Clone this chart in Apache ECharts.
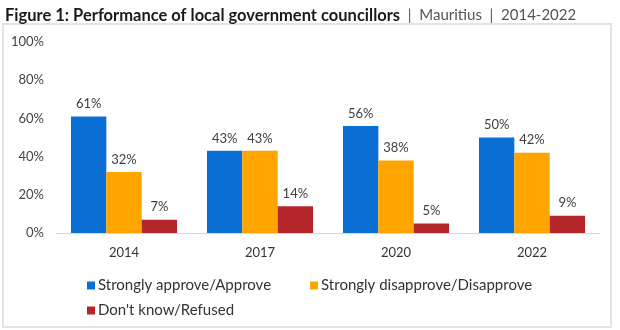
<!DOCTYPE html>
<html><head><meta charset="utf-8">
<script src="https://cdn.jsdelivr.net/npm/echarts@6/dist/echarts.min.js"></script>
<style>html,body{margin:0;padding:0;background:#fff}#c{width:620px;height:330px}</style>
</head><body><div id="c"></div>
<script>
const categories = ['2014', '2017', '2020', '2022'];
const approve = [61, 43, 56, 50];
const disapprove = [32, 43, 38, 42];
const dontKnow = [7, 14, 5, 9];
const seriesNames = ['Strongly approve/Approve', 'Strongly disapprove/Disapprove', "Don't know/Refused"];
const yTicks = [0, 20, 40, 60, 80, 100];

const FONT = 'Lato, "DejaVu Sans", sans-serif';
const chart = echarts.init(document.getElementById('c'), null, {renderer: 'canvas'});
const lbl = {show: true, position: 'top', formatter: '{c}%', color: '#404040', fontSize: 13, fontFamily: FONT, distance: 6};
const legendText = {fontFamily: FONT, fontSize: 15, color: '#333', padding: [0, 0, 0, -2]};
chart.setOption({
  animation: false,
  backgroundColor: '#fff',
  title: {
    left: 0, top: 2,
    text: '{b|Figure 1: Performance of local government councillors}{r|  |  Mauritius  |  2014-2022}',
    textStyle: {
      rich: {
        b: {fontFamily: FONT, fontWeight: 'bold', fontSize: 16.5, color: '#1a1a1a'},
        r: {fontFamily: FONT, fontWeight: 'normal', fontSize: 15, color: '#555'}
      }
    }
  },
  graphic: [{
    type: 'rect', z: -1,
    shape: {x: 3, y: 24, width: 608, height: 303},
    style: {fill: 'none', stroke: '#e3e3e3', lineWidth: 2}
  }],
  grid: {left: 56, right: 20, top: 42, bottom: 97},
  legend: [{
    left: 82, top: 273,
    icon: 'rect', itemWidth: 8, itemHeight: 8, itemGap: 39,
    data: seriesNames.slice(0, 2),
    textStyle: legendText
  }, {
    left: 82, top: 298,
    icon: 'rect', itemWidth: 8, itemHeight: 8,
    data: seriesNames.slice(2),
    textStyle: legendText
  }],
  xAxis: {
    type: 'category', data: categories,
    axisLine: {lineStyle: {color: '#d9d9d9'}},
    axisTick: {show: false},
    axisLabel: {fontFamily: FONT, fontSize: 13, color: '#333', margin: 13}
  },
  yAxis: {
    type: 'value', min: 0, max: 100, interval: 20,
    axisLine: {show: false}, axisTick: {show: false},
    splitLine: {show: false},
    axisLabel: {formatter: v => yTicks.includes(v) ? v + '%' : '', fontFamily: FONT, fontSize: 13, color: '#444', margin: 12}
  },
  series: [
    {name: seriesNames[0], type: 'bar', data: approve, barGap: '0%', barCategoryGap: '22%', itemStyle: {color: '#0b70d6'}, label: lbl},
    {name: seriesNames[1], type: 'bar', data: disapprove, itemStyle: {color: '#fea502'}, label: lbl},
    {name: seriesNames[2], type: 'bar', data: dontKnow, itemStyle: {color: '#b5262c'}, label: lbl}
  ]
});
</script></body></html>
